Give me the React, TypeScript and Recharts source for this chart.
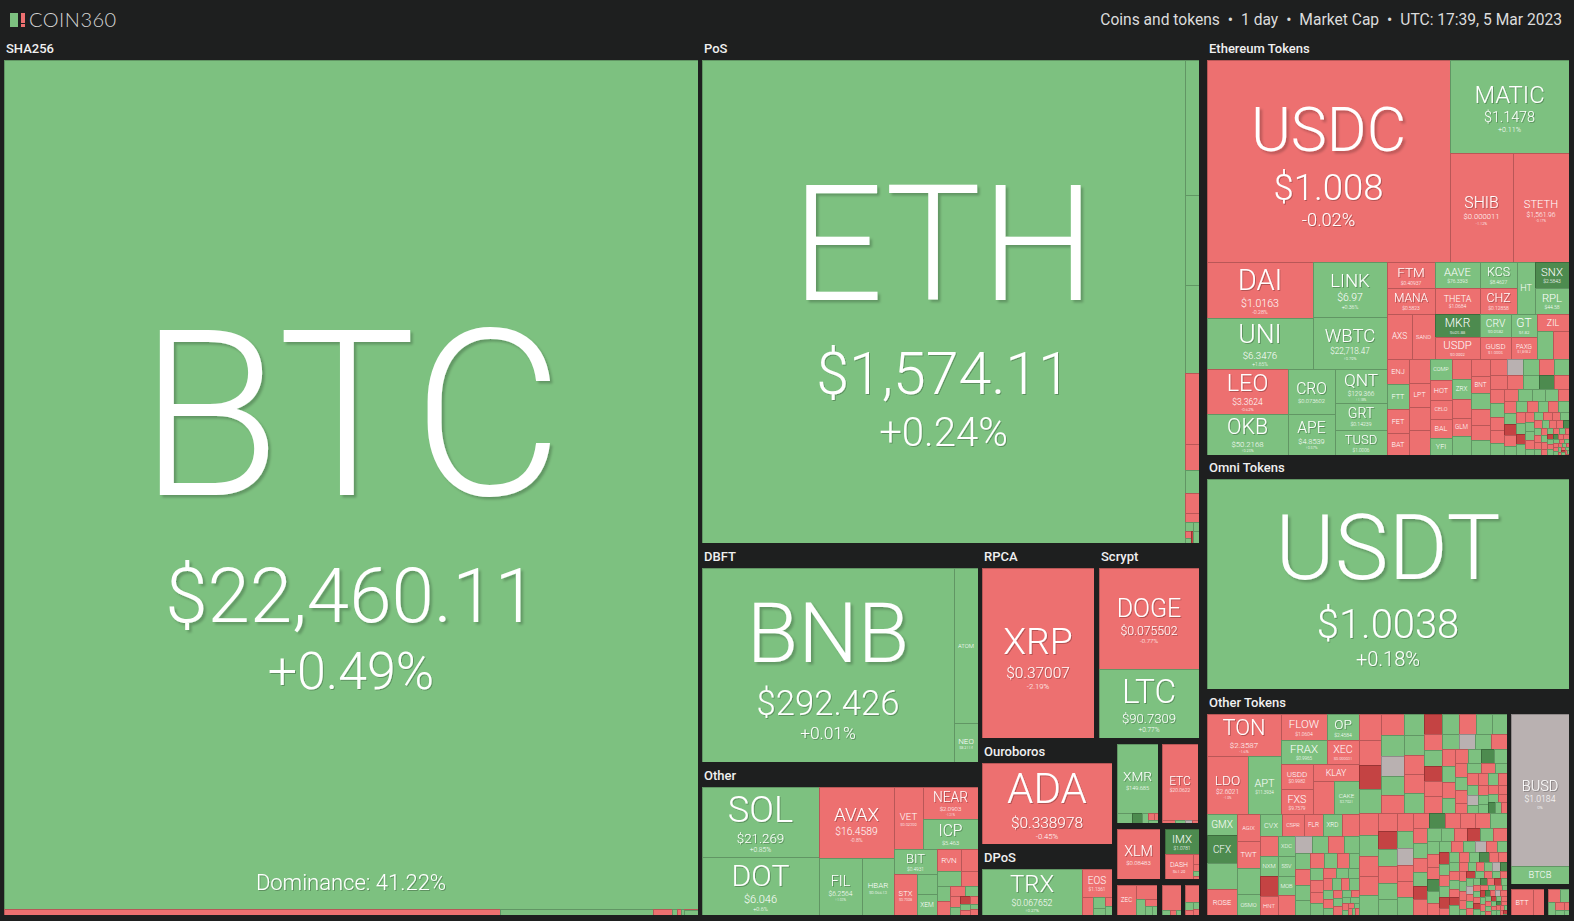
import React from 'react';
import { Treemap } from 'recharts';

type Node = { name: string; v?: number; price?: string; chg?: number; note?: string; children?: Node[] };

const BG = '#1e1f1f';
const TONES: Record<string, string> = {
  g: '#7dc180',
  G: '#4d8b4f',
  r: '#ed7070',
  R: '#c44343',
  n: '#b9b1b1',
};
const CODE_CHG: Record<string, number> = { g: 0.8, G: 4.2, r: -0.8, R: -4.2, n: 0 };

const c = (name: string, v: number, price: string, chg: number, note?: string): Node => ({ name, v, price, chg, note });
const box = (...children: Node[]): Node => ({ name: '', children });
const tail = (vals: number[], codes: string, names: string[] = []): Node[] =>
  vals.map((v, i) => ({ name: names[i] || '', v, chg: CODE_CHG[codes[i]] }));

// ---- SHA256 ----
const SHA_TAIL_V = [114, 30, 24, 18, 12, 8];
const SHA_TAIL_C = 'rgrgrg';
const SHA256 = [
  c('BTC', 589206, '$22,460.11', 0.49, 'Dominance: 41.22%'),
  c('BCH', 2976, '$125.41', -1.32),
  c('BSV', 918, '$37.84', 0.62),
  ...tail(SHA_TAIL_V, SHA_TAIL_C),
];

// ---- PoS ----
const POS_TAIL_V = [1890, 1260, 1232, 994, 364, 322, 280, 126, 70, 56, 42, 28, 20, 14];
const POS_TAIL_C = 'gggrrgrrggrgRg';
const POS = [c('ETH', 233289, '$1,574.11', 0.24), ...tail(POS_TAIL_V, POS_TAIL_C)];

// ---- DBFT / RPCA / Scrypt ----
const DBFT = [c('BNB', 48888, '$292.426', 0.01), c('ATOM', 3720, '$11.4632', 0.31), c('NEO', 936, '$8.2114', 0.22)];
const RPCA = [c('XRP', 19040, '$0.37007', -2.19)];
const SCRYPT = [c('DOGE', 10100, '$0.075502', -0.77), c('LTC', 6900, '$90.7309', 0.77)];

// ---- Other ----
const OTHER_TAIL_V = [540, 380, 360, 250, 200, 180, 150, 130, 110, 90, 80, 70, 60, 50, 40, 30];
const OTHER_TAIL_C = 'rrgrgrrgrgRrgrgr';
const OTHER = [
  box(c('SOL', 8190, '$21.269', 0.85), c('DOT', 6786, '$6.046', 0.6)),
  box(c('AVAX', 5325, '$16.4589', -0.8), box(c('FIL', 2451, '$6.2564', 1.03), c('HBAR', 1824, '$0.06613', 0.58))),
  box(
    box(c('VET', 1798, '$0.02309', -1.25), box(c('NEAR', 1760, '$2.0903', -1.31), c('ICP', 1650, '$5.463', 0.9))),
    box(
      box(c('BIT', 1100, '$0.4931', 0.4), box(c('STX', 984, '$0.7098', -2.1), box(c('RUNE', 400, '$1.7051', 0.8), c('XEM', 420, '$0.0389', 0.3)))),
      box(...tail(OTHER_TAIL_V, OTHER_TAIL_C, ['RVN', 'KAVA'])),
    ),
  ),
];

// ---- Ouroboros / DPoS / small unlabeled ----
const OURO = [c('ADA', 10530, '$0.338978', -0.45)];
const DPOS_TAIL_V = [200, 130, 90, 60, 40];
const DPOS = [c('TRX', 4600, '$0.067652', 0.27), c('EOS', 840, '$1.1361', -1.1), ...tail(DPOS_TAIL_V, 'rggrg')];
const XMR_G = [c('XMR', 2829, '$149.685', 0.62), ...tail([150, 100, 60, 40, 30, 20], 'gGgrrg')];
const ETC_G = [c('ETC', 2736, '$20.0622', -1.1), ...tail([40, 30, 20, 14], 'rgnr')];
const XLM_G = [c('XLM', 2150, '$0.08483', -1.37)];
const IMX_G = [c('IMX', 850, '$1.0781', 3.4), c('DASH', 700, '$61.29', -1.2), ...tail([60, 40, 30, 20], 'rrgr')];
const ZEC_G = [c('ZEC', 570, '$36.91', -0.8), ...tail([300, 150, 80, 60, 40], 'rgrgg')];
const IOTA_G = [c('IOTA', 475, '$0.2148', -0.9), ...tail([40, 30, 25], 'grg')];
const DUST_G = tail([238, 60, 50, 40, 32], 'rgrgr');

// ---- Ethereum Tokens ----
const ETH_TOP = [
  c('USDC', 49086, '$1.008', -0.02),
  box(c('MATIC', 11067, '$1.1478', 0.11), box(c('SHIB', 6867, '$0.000011', -1.12), c('STETH', 6104, '$1,561.96', -0.17))),
];
const ETH_MID = [
  box(c('DAI', 5936, '$1.0163', -0.28), c('UNI', 5406, '$6.3476', 1.65)),
  box(c('LINK', 4070, '$6.97', 0.36), c('WBTC', 3848, '$22,718.47', 0.79)),
];
const ETH_LOW = [
  box(c('LEO', 3645, '$3.3624', -0.62), c('OKB', 3321, '$50.2168', 0.25)),
  box(c('CRO', 2115, '$0.073602', 0.12), c('APE', 1927, '$4.8539', 0.57)),
  box(c('QNT', 1768, '$129.366', 1.18), c('GRT', 1404, '$0.14239', 0.38), c('TUSD', 1300, '$1.0006', 0.03)),
];
const ETH_SMALL_A = [
  c('FTM', 1248, '$0.40937', -1.4),
  c('MANA', 1248, '$0.5823', -1.1),
  box(c('AXS', 1125, '$10.9971', -1.3), c('SAND', 1035, '$0.6432', -0.9)),
];
const ETH_SMALL_B = [
  c('AAVE', 1170, '$76.3393', 0.5),
  c('THETA', 1170, '$1.0684', -0.7),
  c('MKR', 1035, '$695.88', 3.6),
  c('USDP', 990, '$0.9992', -0.1),
];
const ETH_SMALL_C_TOP = [
  box(box(c('KCS', 962, '$8.4627', 0.6), c('CHZ', 962, '$0.12858', -1.5)), c('HT', 936, '$4.9011', 0.4)),
  box(c('SNX', 884, '$2.5843', 3.9), c('RPL', 884, '$44.58', 1.1)),
];
const ETH_SMALL_C_LOW = [
  c('CRV', 720, '$0.9582', 0.7),
  c('GUSD', 696, '$1.0005', -0.2),
  c('GT', 609, '$4.82', 0.5),
  c('PAXG', 552, '$1,848.2', -0.3),
  c('ZIL', 528, '$0.02631', -0.9),
  c('LRC', 460, '$0.3493', 0.4),
  c('ENS', 440, '$14.93', -1.2),
];
const ETH_TAIL_V = [
  560, 548, 531, 520, 514, 503, 490, 472, 455, 441,
  430, 414, 401, 390, 379, 366, 352, 339, 328, 316,
  305, 297, 287, 279, 270, 262, 254, 247, 240, 233,
  225, 218, 210, 204, 197, 191, 186, 180, 175, 170,
  164, 158, 153, 147, 142, 137, 133, 128, 124, 120,
  116, 112, 108, 104, 100, 97, 94, 90, 87, 84,
  81, 78, 75, 72, 70, 67, 64, 62, 60, 58,
  56, 54, 52, 50, 48, 46, 44, 42, 41, 39,
  37, 35, 34, 32, 31, 30, 28, 27, 26, 25,
  24, 23, 22, 21, 20, 19, 18, 17, 16, 15,
  14, 13, 12, 11, 10, 9, 8, 8, 7, 7,
];
const ETH_TAIL_C =
  'rgrrrrrrgr' + 'rrgrgrrgrr' + 'grrgrngrgr' + 'rgGrrgrrgr' + 'gggrrgRrgg' + 'rgrgrgRgrg' +
  'grggrrgrgr' + 'rGgrrgrgrr' + 'grgrRgrgGr' + 'rgrgrrgrgr' + 'grrgRgrgrg';
const ETH_TAIL_N = ['ENJ', 'FTT', 'FET', 'BAT', 'GALA', 'LPT', 'NEXO', 'ANKR', 'COMP', 'HOT', 'CELO', 'BAL', 'YFI', 'SUSHI', 'ZRX', 'OCEAN', 'GLM', 'AUDIO', 'MASK', 'BNT'];

const ETH_TOKENS = [
  box(...ETH_TOP),
  box(
    box(box(...ETH_MID), box(...ETH_LOW)),
    box(
      box(box(...ETH_SMALL_A), box(box(...ETH_SMALL_B), box(box(...ETH_SMALL_C_TOP), box(...ETH_SMALL_C_LOW)))),
      box(...tail(ETH_TAIL_V, ETH_TAIL_C, ETH_TAIL_N)),
    ),
  ),
];

// ---- Omni ----
const OMNI = [c('USDT', 76020, '$1.0038', 0.18)];

// ---- Other Tokens ----
const OT_BLOCK = [
  box(c('TON', 3066, '$2.3587', -1.6), box(c('LDO', 2320, '$2.6021', -1.9), c('APT', 1914, '$11.3934', 1.2))),
  box(
    box(box(c('FLOW', 1170, '$1.0604', -1.1), c('FRAX', 1080, '$0.9965', 0.2)), box(c('OP', 832, '$2.4584', 0.9), c('XEC', 768, '$0.000031', -1.4))),
    box(
      box(c('USDD', 800, '$0.9982', -0.2), c('FXS', 800, '$9.7579', -1.8)),
      box(c('KLAY', 765, '$0.2483', -2.1), box(c('MINA', 693, '$0.7838', -1.3), c('CAKE', 792, '$3.7921', 0.8))),
    ),
  ),
];
const OT_BL_N = ['GMX', 'CFX', '', 'ROSE', 'AGIX', 'TWT', '', 'OSMO', 'CVX', 'CSPR', 'FLR', 'XRD', 'BONE', 'LUNA', 'NXM', '', 'HNT', 'XDC', 'SSV', 'MOB'];
const OT_BL_V = [
  612, 840, 782, 720, 612, 612, 598, 480, 468, 468, 414, 414, 380, 361, 360, 350, 342, 340, 340, 323, 322, 280,
  270, 260, 250, 240, 230, 220, 210, 200, 190, 180, 170, 160, 150, 140, 130, 125, 120, 115, 110, 105,
  100, 95, 90, 85, 80, 75, 70, 65, 60, 55, 50, 45, 40, 35, 30, 28, 26, 24, 22, 20, 18, 16, 14, 12,
];
const OT_BL_C = 'gGgrrrgggrrgrrgRrgggrn' + 'grggrggrgr' + 'ggrrgrggrg' + 'rggrgrgrgr' + 'ggrgrgrgrg' + 'rgrg';
const OT_TR_V = [
  560, 540, 520, 503, 488, 470, 455, 440, 425, 410,
  398, 385, 372, 360, 350, 340, 330, 318, 306, 296,
  286, 276, 266, 258, 250, 242, 234, 226, 218, 210,
  202, 195, 188, 181, 175, 169, 163, 157, 151, 146,
  141, 136, 131, 126, 121, 117, 113, 109, 105, 101,
  97, 93, 89, 86, 83, 80, 77, 74, 71, 68, 65, 62,
];
const OT_TR_C = 'rrRgrgngrg' + 'grrgRgrggr' + 'gRrrgngrrg' + 'rgrgGgrgrr' + 'grgrrgrgng' + 'rggrrgrGgrgr';
const OT_BR_V = [
  420, 400, 380, 360, 345, 335,
  330, 322, 310, 301, 292, 284, 276, 268, 260, 254,
  248, 241, 235, 229, 223, 217, 212, 206, 201, 196,
  191, 186, 182, 177, 173, 169, 165, 161, 157, 153,
  150, 146, 143, 139, 136, 133, 130, 127, 124, 121,
  118, 115, 112, 110, 107, 105, 102, 100, 98, 96,
  94, 92, 90, 88, 86, 84, 82, 80, 78, 77,
  75, 73, 72, 70, 69, 67, 66, 64, 63, 61,
  60, 59, 57, 56, 55, 54, 52, 51, 50, 49,
  48, 47, 46, 45, 44, 43, 42, 41, 40, 39,
  38, 37, 36, 35, 34, 34, 33, 32, 31, 30,
  30, 29, 28, 27, 27, 26, 25, 24, 24, 23,
  22, 22, 21, 20, 20, 19, 18, 18, 17, 16,
  16, 15, 15, 14, 13, 13, 12, 12, 11, 10,
];
const OT_BR_C =
  'rgrrgrRgrg' + 'grgnrrgrGr' + 'rrgrgrgRrg' + 'grRgrgrrGg' + 'rgrgnrgRgr' + 'gRrgrgGrrg' + 'rgrRgrgrgn' +
  'GrgrrgRgrg' + 'rgnrgrgGrR' + 'grgrRgrgrg' + 'RgrgGrnrgr' + 'grRgrgrgGr' + 'rgrgrRgngr' + 'gGrgrg';
const OTHER_TOKENS = [
  box(box(...OT_BLOCK), box(...tail(OT_BL_V, OT_BL_C, OT_BL_N))),
  box(box(...tail(OT_TR_V, OT_TR_C)), box(...tail(OT_BR_V, OT_BR_C))),
];
const BEP = [c('BUSD', 8816, '$1.0184', 0), c('BTCB', 1044, '$22,455.7', 0.5)];
const BTT_G = [c('BTT', 572, '$0.00000061', -1.2), ...tail([286], 'r')];
const BTT2_G = tail([150, 120, 90, 70, 50, 40, 26], 'rggrgrg');

const DATA: Record<string, Node[]> = {
  sha: SHA256, pos: POS, dbft: DBFT, rpca: RPCA, scrypt: SCRYPT, other: OTHER, ouro: OURO, dpos: DPOS,
  xmr: XMR_G, etc: ETC_G, xlm: XLM_G, imx: IMX_G, zec: ZEC_G, iota: IOTA_G, dust: DUST_G,
  eth: ETH_TOKENS, omni: OMNI, ot: OTHER_TOKENS, bep: BEP, btt: BTT_G, btt2: BTT2_G,
};

const LAYOUT = [
  { key: 'sha', label: 'SHA256', x: 4, y: 60, w: 694, h: 855 },
  { key: 'pos', label: 'PoS', x: 702, y: 60, w: 497, h: 483 },
  { key: 'dbft', label: 'DBFT', x: 702, y: 568, w: 276, h: 194 },
  { key: 'rpca', label: 'RPCA', x: 982, y: 568, w: 112, h: 170 },
  { key: 'scrypt', label: 'Scrypt', x: 1099, y: 568, w: 100, h: 170 },
  { key: 'other', label: 'Other', x: 702, y: 787, w: 276, h: 128 },
  { key: 'ouro', label: 'Ouroboros', x: 982, y: 763, w: 130, h: 81 },
  { key: 'dpos', label: 'DPoS', x: 982, y: 869, w: 130, h: 46 },
  { key: 'xmr', x: 1117, y: 744, w: 41, h: 79 },
  { key: 'etc', x: 1162, y: 744, w: 36, h: 79 },
  { key: 'xlm', x: 1117, y: 829, w: 43, h: 50 },
  { key: 'imx', x: 1165, y: 829, w: 34, h: 50 },
  { key: 'zec', x: 1117, y: 885, w: 40, h: 30 },
  { key: 'iota', x: 1162, y: 885, w: 19, h: 30 },
  { key: 'dust', x: 1185, y: 885, w: 14, h: 30 },
  { key: 'eth', label: 'Ethereum Tokens', x: 1207, y: 60, w: 362, h: 395 },
  { key: 'omni', label: 'Omni Tokens', x: 1207, y: 479, w: 362, h: 210 },
  { key: 'ot', label: 'Other Tokens', x: 1207, y: 714, w: 300, h: 201 },
  { key: 'bep', x: 1511, y: 714, w: 58, h: 170 },
  { key: 'btt', x: 1511, y: 889, w: 33, h: 26 },
  { key: 'btt2', x: 1548, y: 889, w: 21, h: 26 },
];

const toneOf = (chg: number) => {
  if (chg === 0) return TONES.n;
  if (chg >= 3) return TONES.G;
  if (chg > 0) return TONES.g;
  if (chg <= -3) return TONES.R;
  return TONES.r;
};

const FONT = 'Roboto, sans-serif';
// font box metrics used to keep lines from touching
const ASC = 0.93;
const DESC = 0.245;
const CAP = 0.71;

function label(text: string, cx: number, y: number, size: number) {
  const filter = size >= 60 ? 'url(#tshBig)' : size >= 12 ? 'url(#tsh)' : undefined;
  return (
    <text x={cx} y={y} textAnchor="middle" fontFamily={FONT} fontWeight={300} fontSize={size} fill="#ffffff" filter={filter}>
      {text}
    </text>
  );
}

const renderTile = (p: any) => {
  const { x, y, width: w, height: h, children, name, price, chg, note } = p;
  if ((children && children.length) || !(w > 0) || !(h > 0)) return <g />;
  const S = name ? Math.min((0.6 * w) / (name.length * 0.6), 0.52 * h) : 0;
  const showS = S >= 5.5;
  const P = showS && price ? Math.min((0.55 * w) / (price.length * 0.5), 0.6 * S, 0.19 * h) : 0;
  const showP = P >= 3.5;
  const Q = P > 45 ? 0.68 * P : 0.5 * P;
  const showQ = showP && Q >= 3;
  const pct = `${chg > 0 ? '+' : ''}${chg}%`;
  const stepP = DESC * S + ASC * P;
  const stepQ = DESC * P + ASC * Q;
  const blockH = CAP * S + (showP ? stepP : 0) + (showQ ? stepQ : 0);
  const top = y + (h - blockH) / 2 + (showP ? 0.03 * h : 0);
  const bS = top + CAP * S;
  const bP = bS + stepP;
  const bQ = bP + stepQ;
  const cx = x + w / 2;
  return (
    <g>
      <rect x={x} y={y} width={w} height={h} fill={toneOf(chg)} stroke="rgba(0,0,0,0.22)" strokeWidth={1} shapeRendering="crispEdges" />
      {showS && label(name, cx, bS, S)}
      {showP && label(price, cx, bP, P)}
      {showQ && label(pct, cx, bQ, Q)}
      {note && label(note, cx, y + h - 19, 22)}
    </g>
  );
};

export default function App() {
  return (
    <div style={{ position: 'absolute', left: 0, top: 0, width: 1574, height: 921, background: BG, overflow: 'hidden' }}>
      <svg width={1574} height={921} style={{ position: 'absolute', left: 0, top: 0 }}>
        <defs>
          <filter id="tsh" x="-10%" y="-20%" width="130%" height="150%">
            <feDropShadow dx={1} dy={1} stdDeviation={0.4} floodColor="#000" floodOpacity={0.25} />
          </filter>
          <filter id="tshBig" x="-10%" y="-20%" width="130%" height="150%">
            <feDropShadow dx={2.5} dy={2.5} stdDeviation={0.8} floodColor="#000" floodOpacity={0.22} />
          </filter>
        </defs>
        <rect x={10} y={13} width={8} height={14} fill={TONES.g} />
        <rect x={21} y={13} width={4} height={10} fill={TONES.r} />
        <rect x={21} y={24} width={4} height={3} fill={TONES.r} />
        <text x={29} y={27} fontFamily="Lato, sans-serif" fontWeight={300} fontSize={20} fill="#d4d4d4" letterSpacing={0.5}>
          COIN360
        </text>
        <text x={1562} y={25} textAnchor="end" fontFamily={FONT} fontSize={15.6} fill="#dcdcdc">
          {'Coins and tokens\u2002\u2022\u20021 day\u2002\u2022\u2002Market Cap\u2002\u2022\u2002UTC: 17:39, 5 Mar 2023'}
        </text>
        {LAYOUT.filter((g) => g.label).map((g) => (
          <text key={g.key} x={g.x + 2} y={g.y - 7} fontFamily={FONT} fontWeight={500} fontSize={13} fill="#f0f0f0">
            {g.label}
          </text>
        ))}
      </svg>
      {LAYOUT.map((g) => (
        <div key={g.key} style={{ position: 'absolute', left: g.x, top: g.y, width: g.w, height: g.h }}>
          <Treemap
            width={g.w}
            height={g.h}
            data={DATA[g.key] as any}
            dataKey="v"
            aspectRatio={1}
            isAnimationActive={false}
            isUpdateAnimationActive={false}
            content={renderTile as any}
          />
        </div>
      ))}
    </div>
  );
}
